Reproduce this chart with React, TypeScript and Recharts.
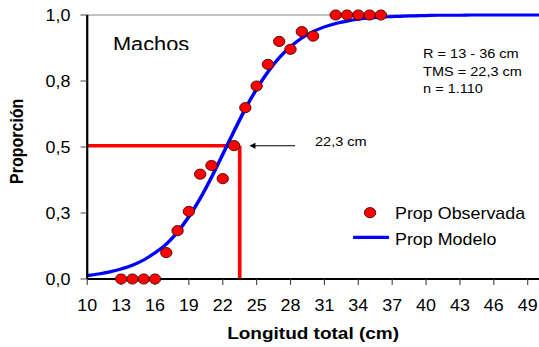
import React from "react";
import {
  ComposedChart,
  Line,
  Scatter,
  XAxis,
  YAxis,
  ReferenceLine,
} from "recharts";

// ---- data ----
const obsX = [13, 14, 15, 16, 17, 18, 19, 20, 21, 22, 23, 24, 25, 26, 27, 28, 29, 30, 32, 33, 34, 35, 36];
const obsY = [0, 0, 0, 0, 0.1, 0.183, 0.256, 0.397, 0.43, 0.38, 0.505, 0.649, 0.731, 0.813, 0.9, 0.87, 0.937, 0.92, 1, 1, 1, 1, 1];

const modelX = [
  10, 11, 12, 13, 14, 15, 16, 17, 18, 19, 20, 21, 22, 23, 24, 25, 26, 27, 28, 29, 30,
  31, 32, 33, 34, 35, 36, 37, 38, 39, 40, 41, 42, 43, 44, 45, 46, 47, 48, 49, 50,
];
const modelY = [
  0.013, 0.019, 0.027, 0.038, 0.052, 0.072, 0.099, 0.132, 0.178, 0.236, 0.305, 0.385, 0.472,
  0.56, 0.645, 0.72, 0.785, 0.838, 0.88, 0.913, 0.937, 0.955, 0.968, 0.977, 0.984, 0.989,
  0.992, 0.994, 0.996, 0.997, 0.998, 0.999, 0.999, 0.999, 1, 1, 1, 1, 1, 1, 1,
];

const xTicks = [10, 13, 16, 19, 22, 25, 28, 31, 34, 37, 40, 43, 46, 49];
const yTicks = [0, 0.25, 0.5, 0.75, 1];
const yTickLabels = ["0,0", "0,3", "0,5", "0,8", "1,0"];

const tmsValue = 23.5;
const tmsLevel = 0.505;
const arrowFrom = 28.4;
const arrowTo = 24.35;

const obsData = obsX.map((x, i) => ({ x, y: obsY[i] }));
const modelData = modelX.map((x, i) => ({ x, y: modelY[i] }));

const FONT = "'Liberation Sans', Arial, Helvetica, sans-serif";
const W = 482;
const H = 347;
const SX = 539 / W;

const Dot = (props: any) => {
  const { cx, cy } = props;
  if (cx == null || cy == null) return null;
  return <circle cx={cx} cy={cy} r={5.1} fill="#ff0000" stroke="#330000" strokeWidth={0.8} />;
};

const ArrowShape = (props: any) => {
  const { x1, y1, x2, y2 } = props;
  const tipX = Math.min(x1, x2);
  const tailX = Math.max(x1, x2);
  const y = (y1 + y2) / 2;
  return (
    <g>
      <line x1={tailX} y1={y} x2={tipX + 4} y2={y} stroke="#000" strokeWidth={1} />
      <polygon points={`${tipX},${y} ${tipX + 5.5},${y - 3} ${tipX + 5.5},${y + 3}`} fill="#000" />
    </g>
  );
};

export default function App() {
  return (
    <div
      style={{
        position: "absolute",
        left: 0,
        top: 0,
        width: W,
        height: H,
        transform: `scaleX(${SX})`,
        transformOrigin: "0 0",
        fontFamily: FONT,
        background: "#fff",
      }}
    >
      <ComposedChart width={W} height={H} margin={{ top: 15, right: 0, bottom: 0, left: 0 }}>
        <defs>
          <clipPath id="machosClip">
            <rect x={0} y={0} width={300} height={50} />
          </clipPath>
        </defs>
        <XAxis
          type="number"
          dataKey="x"
          domain={[10, 50]}
          ticks={xTicks}
          interval={0}
          allowDataOverflow
          height={68}
          tickSize={6}
          tickMargin={15}
          axisLine={{ stroke: "#000", strokeWidth: 2 }}
          tickLine={{ stroke: "#444", strokeWidth: 1 }}
          tick={{ fontSize: 16, fill: "#000", fontFamily: FONT }}
        />
        <YAxis
          type="number"
          dataKey="y"
          domain={[0, 1]}
          ticks={yTicks}
          interval={0}
          width={78}
          tickSize={6}
          tickMargin={9}
          tickFormatter={(v: number) => yTickLabels[yTicks.indexOf(v)] ?? ""}
          axisLine={{ stroke: "#000", strokeWidth: 2 }}
          tickLine={{ stroke: "#444", strokeWidth: 1 }}
          tick={{ fontSize: 16, fill: "#000", fontFamily: FONT }}
        />
        <ReferenceLine y={1} stroke="#888" strokeWidth={1} />
        <ReferenceLine
          segment={[
            { x: 10, y: tmsLevel },
            { x: tmsValue, y: tmsLevel },
          ]}
          stroke="#ff0000"
          strokeWidth={3.5}
        />
        <ReferenceLine
          segment={[
            { x: tmsValue, y: tmsLevel },
            { x: tmsValue, y: 0 },
          ]}
          stroke="#ff0000"
          strokeWidth={3.3}
        />
        <ReferenceLine
          segment={[
            { x: arrowFrom, y: tmsLevel },
            { x: arrowTo, y: tmsLevel },
          ]}
          stroke="#000"
          shape={ArrowShape}
        />
        <Line
          data={modelData}
          dataKey="y"
          type="monotone"
          stroke="#0000ff"
          strokeWidth={3.2}
          dot={false}
          activeDot={false}
          isAnimationActive={false}
          legendType="none"
        />
        <Scatter data={obsData} dataKey="y" fill="#ff0000" shape={Dot} isAnimationActive={false} />

        {/* texts */}
        <text
          x={101}
          y={51}
          fontSize={19.5}
          fontFamily={FONT}
          fill="#000"
          clipPath="url(#machosClip)"
        >
          Machos
        </text>
        <text x={378.3} y={58.3} fontSize={13} fontFamily={FONT} fill="#000">
          R = 13 - 36 cm
        </text>
        <text x={378.3} y={75.7} fontSize={13} fontFamily={FONT} fill="#000">
          TMS = 22,3 cm
        </text>
        <text x={378.3} y={93} fontSize={13} fontFamily={FONT} fill="#000">
          n = 1.110
        </text>
        <text x={281.7} y={146} fontSize={13} fontFamily={FONT} fill="#000">
          22,3 cm
        </text>

        {/* legend */}
        <circle cx={330.9} cy={212.7} r={5.1} fill="#ff0000" stroke="#330000" strokeWidth={0.8} />
        <text x={353.2} y={219.3} fontSize={16} fontFamily={FONT} fill="#000">
          Prop Observada
        </text>
        <line x1={315.7} y1={237.3} x2={347.9} y2={237.3} stroke="#0000ff" strokeWidth={3.2} />
        <text x={353.2} y={244.7} fontSize={16} fontFamily={FONT} fill="#000">
          Prop Modelo
        </text>

        {/* axis titles */}
        <text
          x={280}
          y={339.5}
          textAnchor="middle"
          fontSize={17}
          fontWeight="bold"
          fontFamily={FONT}
          fill="#000"
        >
          Longitud total (cm)
        </text>
        <text
          x={20.5}
          y={141.3}
          textAnchor="middle"
          fontSize={16}
          fontWeight="bold"
          fontFamily={FONT}
          fill="#000"
          transform="rotate(-90, 20.5, 141.3)"
        >
          Proporción
        </text>
      </ComposedChart>
    </div>
  );
}
